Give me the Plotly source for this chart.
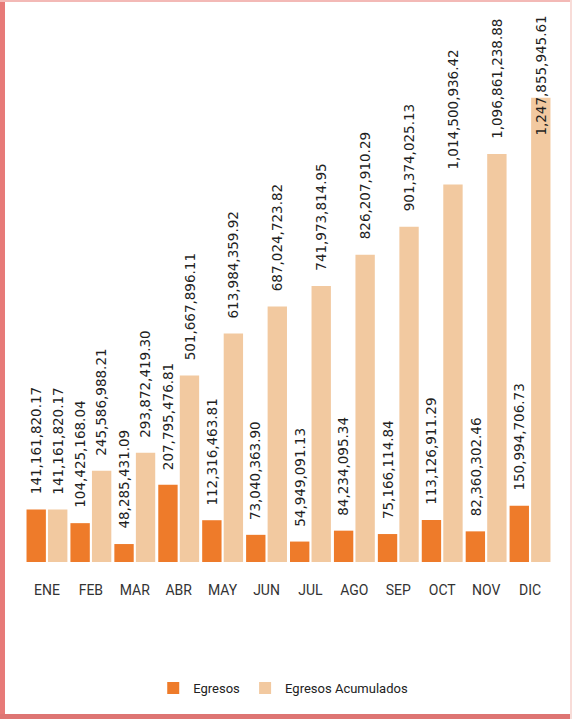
import plotly.graph_objects as go

meses = ['ENE', 'FEB', 'MAR', 'ABR', 'MAY', 'JUN', 'JUL', 'AGO', 'SEP', 'OCT', 'NOV', 'DIC']
egresos = [141161820.17, 104425168.04, 48285431.09, 207795476.81, 112316463.81, 73040363.90,
           54949091.13, 84234095.34, 75166114.84, 113126911.29, 82360302.46, 150994706.73]
acumulados = [141161820.17, 245586988.21, 293872419.30, 501667896.11, 613984359.92, 687024723.82,
              741973814.95, 826207910.29, 901374025.13, 1014500936.42, 1096861238.88, 1247855945.61]

W, H = 572, 719
margin_dict = dict(l=25, r=20, t=10, b=157)
plot_w = W - margin_dict['l'] - margin_dict['r']
plot_h = H - margin_dict['t'] - margin_dict['b']
bar_gap = 0.02
offset = plot_w / len(meses) * (1 - bar_gap) / 4

fig = go.Figure()
fig.add_trace(go.Bar(
    x=meses, y=egresos, name='Egresos',
    marker=dict(color='#EE7B2A', line=dict(width=0)),
))
fig.add_trace(go.Bar(
    x=meses, y=acumulados, name='Egresos Acumulados',
    marker=dict(color='#F2C9A0', line=dict(width=0)),
))

label_font = dict(family='DejaVu Sans', size=13.5, color='#1f1f1f')


def fmt(v):
    return f'{v:,.2f}'


for serie, shift in ((egresos, -offset), (acumulados, offset)):
    for i, (mes, v) in enumerate(zip(meses, serie)):
        ys = 13
        if serie is acumulados and i == len(meses) - 1:
            ys = -40  # Excel pushed this one down to fit
        fig.add_annotation(
            x=mes, y=v, text=fmt(v), textangle=-90,
            showarrow=False, xshift=shift, yshift=ys,
            yanchor='bottom', xanchor='center',
            font=label_font,
        )

# marco rosado del escaneo
fig.add_shape(type='rect', xref='paper', yref='paper',
              x0=-margin_dict['l'] / plot_w, x1=-(margin_dict['l'] - 5) / plot_w,
              y0=-margin_dict['b'] / plot_h, y1=1 + margin_dict['t'] / plot_h,
              fillcolor='#E77A78', line=dict(width=0), layer='above')
fig.add_shape(type='rect', xref='paper', yref='paper',
              x0=-margin_dict['l'] / plot_w, x1=1 + margin_dict['r'] / plot_w,
              y0=-margin_dict['b'] / plot_h, y1=-(margin_dict['b'] - 5) / plot_h,
              fillcolor='#DE7573', line=dict(width=0), layer='above')
fig.add_shape(type='rect', xref='paper', yref='paper',
              x0=-margin_dict['l'] / plot_w, x1=1 + margin_dict['r'] / plot_w,
              y0=1 + (margin_dict['t'] - 2) / plot_h, y1=1 + margin_dict['t'] / plot_h,
              fillcolor='#F3B9B6', line=dict(width=0), layer='above')
fig.add_shape(type='rect', xref='paper', yref='paper',
              x0=1 + (margin_dict['r'] - 2) / plot_w, x1=1 + margin_dict['r'] / plot_w,
              y0=-margin_dict['b'] / plot_h, y1=1 + margin_dict['t'] / plot_h,
              fillcolor='#F8DCD8', line=dict(width=0), layer='above')

fig.update_layout(
    width=W,
    height=H,
    margin=margin_dict,
    barmode='group',
    bargap=bar_gap,
    bargroupgap=0.1,
    plot_bgcolor='white',
    paper_bgcolor='white',
    showlegend=True,
    legend=dict(
        orientation='h',
        x=0.49, xanchor='center',
        y=-126 / plot_h, yanchor='middle',
        font=dict(family='Roboto', size=13, color='#222222'),
        itemwidth=30,
        traceorder='normal',
    ),
    xaxis=dict(
        showgrid=False, showline=False, zeroline=False,
        ticks='outside', ticklen=15, tickcolor='rgba(0,0,0,0)',
        tickfont=dict(family='Roboto', size=14, color='#333333'),
    ),
    yaxis=dict(
        range=[0, plot_h / 0.372 * 1e6],
        visible=False,
    ),
)

fig.write_html('out.html', config={'displayModeBar': False},
               post_script="document.body.style.margin='0';")
